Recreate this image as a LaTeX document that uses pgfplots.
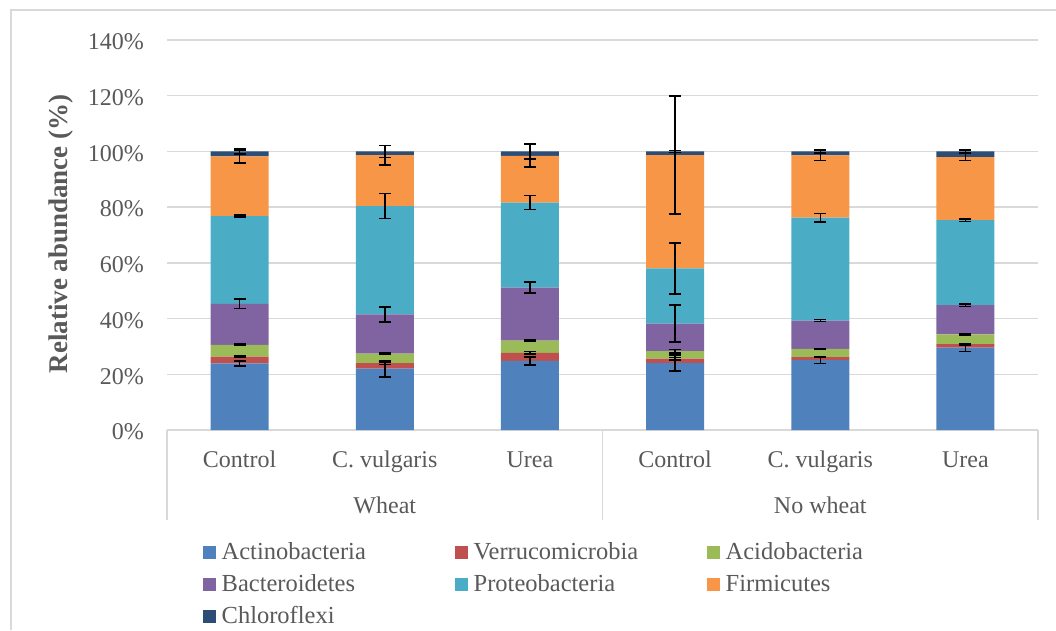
\documentclass[border=0pt]{standalone}
\usepackage{fontspec}
\setmainfont{Liberation Serif}
\usepackage{pgfplots}
\usepackage{pgfplotstable}
\pgfplotsset{compat=1.18}
\definecolor{cAct}{HTML}{4F81BD}
\definecolor{cVer}{HTML}{C0504D}
\definecolor{cAci}{HTML}{9BBB59}
\definecolor{cBac}{HTML}{8064A2}
\definecolor{cPro}{HTML}{4BACC6}
\definecolor{cFir}{HTML}{F79646}
\definecolor{cChl}{HTML}{2C4D75}
\definecolor{txt}{HTML}{595959}
\definecolor{gridc}{HTML}{D9D9D9}

\pgfplotstableread{
x act acte ver vere aci acie bac bace pro proe fir fire chl chle
0 23.9 0.9 2.4 0.2 4.3 0.3 14.7 1.7 31.5 0.3 21.4 2.3 1.8 1.0
1 22.0 3.0 2.0 0.5 3.4 0.2 14.1 2.7 38.9 4.5 18.3 3.5 1.3 2.2
2 24.8 1.4 2.9 0.5 4.4 0.2 19.0 2.0 30.5 2.5 16.8 4.0 1.6 2.8
3 24.1 2.9 1.5 0.5 2.7 0.6 9.9 6.6 19.8 9.2 40.7 21.2 1.3 0.3
4 25.1 1.2 1.1 0.2 2.9 0.2 10.2 0.3 36.9 1.6 22.4 1.8 1.4 0.5
5 29.6 1.4 1.2 0.3 3.5 0.2 10.5 0.5 30.5 0.4 22.7 1.3 2.0 0.6
}\data

\pgfplotsset{common/.style={
  scale only axis, width=871pt, height=390pt,
  at={(167pt,200pt)}, anchor=south west,
  xmin=-0.5, xmax=5.5, ymin=0, ymax=140,
  ybar stacked, bar width=58pt, clip=false,
},
errstyle/.style={fill=none, draw=none,
    error bars/y dir=both, error bars/y explicit,
    error bars/error bar style={draw=black, line width=1.5pt, solid},
    error bars/error mark options={rotate=90, draw=black, line width=1.5pt, mark size=6pt}}
}
\newcommand{\lent}[1]{\makebox[234.5pt][l]{\hspace{6pt}#1}}

\begin{document}
\begin{tikzpicture}
\path[use as bounding box] (0,0) rectangle (1056pt,630pt);
\draw[gridc, line width=1.5pt] (11pt,0) -- (11pt,620pt) -- (1056pt,620pt);
\begin{axis}[common,
  axis line style={draw=none},
  ytick={0,20,...,140},
  ymajorgrids, grid style={gridc, line width=1.5pt},
  yticklabel={\pgfmathprintnumber{\tick}\%},
  /pgf/number format/assume math mode=true,
  major tick length=0pt,
  xtick pos=lower, ytick pos=left,
  xtick={0,...,5},
  xticklabels={Control, C. vulgaris, Urea, Control, C. vulgaris, Urea},
  extra x ticks={-0.5,2.5,5.5},
  extra x tick labels={},
  extra x tick style={major tick length=90pt, tick align=outside,
     tick style={draw=gridc, line width=1.5pt}},
  xticklabel style={font=\fontsize{24}{28}\selectfont, text=txt, inner sep=0pt,
     text height=17pt, text depth=5pt, yshift=-20pt},
  yticklabel style={font=\fontsize{24}{28}\selectfont, text=txt, inner sep=0pt,
     anchor=east, xshift=-23pt, yshift=-2pt},
  ylabel={Relative abundance (\%)},
  ylabel style={at={(axis description cs:-0.1217,0.503)}, anchor=center,
     font=\fontsize{27}{30}\selectfont\bfseries, text=txt},
  legend columns=3,
  legend image code/.code={\fill[#1] (0pt,-5.25pt) rectangle (12.5pt,7.25pt);},
  legend style={at={(axis description cs:0.0413,-0.2872)}, anchor=north west,
     draw=none, fill=none, inner sep=0pt, text=txt,
     font=\fontsize{24.5}{28}\selectfont,
     row sep=9.5pt,
     nodes={inner sep=0pt, text height=17pt, text depth=5.5pt},
     /tikz/every even column/.append style={column sep=5pt}},
]
\addplot[fill=cAct, draw=none] table[x=x, y=act]{\data};
\addlegendentry{\lent{Actinobacteria}}
\addplot[fill=cVer, draw=none] table[x=x, y=ver]{\data};
\addlegendentry{\lent{Verrucomicrobia}}
\addplot[fill=cAci, draw=none] table[x=x, y=aci]{\data};
\addlegendentry{\lent{Acidobacteria}}
\addplot[fill=cBac, draw=none] table[x=x, y=bac]{\data};
\addlegendentry{\lent{Bacteroidetes}}
\addplot[fill=cPro, draw=none] table[x=x, y=pro]{\data};
\addlegendentry{\lent{Proteobacteria}}
\addplot[fill=cFir, draw=none] table[x=x, y=fir]{\data};
\addlegendentry{\lent{Firmicutes}}
\addplot[fill=cChl, draw=none] table[x=x, y=chl]{\data};
\addlegendentry{\lent{Chloroflexi}}
\node[font=\fontsize{24}{28}\selectfont, text=txt, anchor=base] at (axis cs:1,0) [yshift=-83pt] {Wheat};
\node[font=\fontsize{24}{28}\selectfont, text=txt, anchor=base] at (axis cs:4,0) [yshift=-83pt] {No wheat};
\end{axis}
\begin{axis}[common, hide axis]
\addplot[errstyle] table[x=x, y=act, y error=acte]{\data};
\addplot[errstyle] table[x=x, y=ver, y error=vere]{\data};
\addplot[errstyle] table[x=x, y=aci, y error=acie]{\data};
\addplot[errstyle] table[x=x, y=bac, y error=bace]{\data};
\addplot[errstyle] table[x=x, y=pro, y error=proe]{\data};
\addplot[errstyle] table[x=x, y=fir, y error=fire]{\data};
\addplot[errstyle] table[x=x, y=chl, y error=chle]{\data};
\end{axis}
\end{tikzpicture}
\end{document}
